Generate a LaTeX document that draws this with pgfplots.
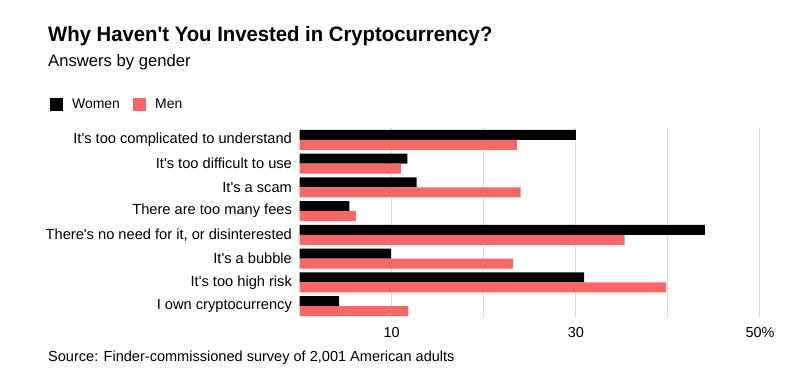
\documentclass[border=0pt]{standalone}
\usepackage{pgfplots}
\pgfplotsset{compat=1.18}
\usepackage{fontspec}
\setmainfont{Liberation Sans}[Ligatures=TeXOff]
\definecolor{menred}{RGB}{248,102,102}
\definecolor{gridgray}{RGB}{218,218,218}
\begin{document}
\begin{tikzpicture}
\useasboundingbox (0,0) rectangle (802bp,378bp);
\begin{axis}[
  at={(299.6bp,60bp)}, anchor=south west,
  scale only axis, width=460.4bp, height=190bp,
  xmin=0, xmax=50, ymin=-0.5, ymax=7.5,
  axis line style={draw=none},
  xbar, bar width=10bp,
  xtick={10,20,30,40,50},
  xticklabels={10,,30,,50\%},
  ytick={0,...,7},
  yticklabels={I own cryptocurrency,It's too high risk,It's a bubble,{There's no need for it, or disinterested},There are too many fees,It's a scam,It's too difficult to use,It's too complicated to understand},
  major tick length=0pt,
  xmajorgrids, grid style={gridgray, line width=1bp},
  /pgf/number format/assume math mode=true,
  xticklabel style={font=\fontsize{14.5}{16}\selectfont, inner sep=0pt, anchor=north, yshift=-9bp},
  yticklabel style={font=\fontsize{14.7}{16}\selectfont, inner sep=0pt, anchor=east, xshift=-7.5bp},
]
\addplot[fill=black, draw=none, bar shift=5bp] coordinates {
(30.0,7) (11.7,6) (12.7,5) (5.4,4) (44.0,3) (9.9,2) (30.9,1) (4.3,0)};
\addplot[fill=menred, draw=none, bar shift=-5bp] coordinates {
(23.6,7) (11.0,6) (24.0,5) (6.1,4) (35.3,3) (23.2,2) (39.8,1) (11.8,0)};
\end{axis}
\node[anchor=base west, inner sep=0pt] at (48bp,336bp) {\scalebox{0.97}[1]{\fontsize{21}{24}\selectfont\bfseries Why Haven't You Invested in Cryptocurrency?}};
\node[anchor=base west, inner sep=0pt] at (48bp,311bp) {\fontsize{16.7}{18}\selectfont Answers by gender};
\fill[black] (50bp,267bp) rectangle (63bp,280bp);
\node[anchor=base west, inner sep=0pt] at (72bp,269bp) {\fontsize{14}{16}\selectfont Women};
\fill[menred] (133bp,267bp) rectangle (146bp,280bp);
\node[anchor=base west, inner sep=0pt] at (155bp,269bp) {\fontsize{14}{16}\selectfont Men};
\node[anchor=base west, inner sep=0pt] at (48bp,16.3bp) {\fontsize{14.6}{16}\selectfont Source: Finder-commissioned survey of 2,001 American adults};
\end{tikzpicture}
\end{document}
